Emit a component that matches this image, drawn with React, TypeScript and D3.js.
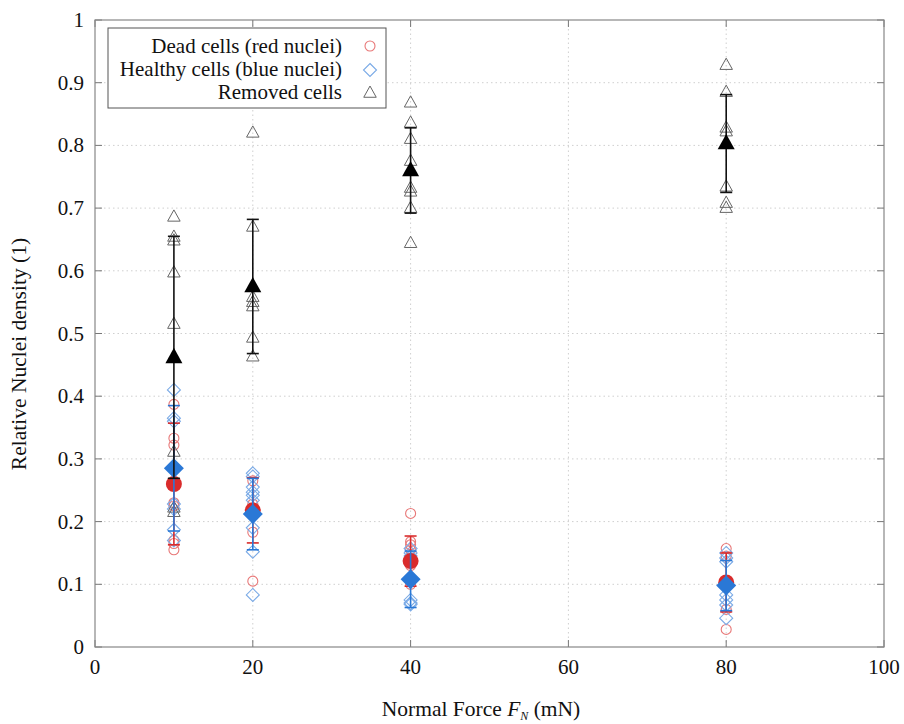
import React from "react";
import * as d3 from "d3";

const forces = [10, 20, 40, 80];
const xTicks = [0, 20, 40, 60, 80, 100];
const yTicks = [0, 0.1, 0.2, 0.3, 0.4, 0.5, 0.6, 0.7, 0.8, 0.9, 1];
const yTickLabels = ["0", "0.1", "0.2", "0.3", "0.4", "0.5", "0.6", "0.7", "0.8", "0.9", "1"];

const deadMean = [0.26, 0.218, 0.137, 0.103];
const deadErr = [0.097, 0.052, 0.04, 0.047];
const healthyMean = [0.285, 0.212, 0.108, 0.098];
const healthyErr = [0.1, 0.057, 0.045, 0.04];
const removedMean = [0.462, 0.575, 0.76, 0.803];
const removedErr = [0.193, 0.107, 0.068, 0.078];

const deadPoints = [
  [0.387, 0.333, 0.322, 0.23, 0.225, 0.17, 0.165, 0.155],
  [0.265, 0.228, 0.22, 0.183, 0.105],
  [0.213, 0.168, 0.163, 0.155, 0.13, 0.1],
  [0.157, 0.145, 0.1, 0.06, 0.028],
];
const healthyPoints = [
  [0.41, 0.365, 0.36, 0.228, 0.22, 0.187, 0.17],
  [0.277, 0.272, 0.255, 0.247, 0.242, 0.234, 0.19, 0.152, 0.083],
  [0.157, 0.15, 0.145, 0.11, 0.075, 0.07, 0.068],
  [0.15, 0.142, 0.136, 0.083, 0.075, 0.067, 0.046],
];
const removedPoints = [
  [0.686, 0.654, 0.648, 0.597, 0.515, 0.311, 0.222, 0.215],
  [0.82, 0.67, 0.558, 0.55, 0.543, 0.493, 0.463],
  [0.868, 0.836, 0.81, 0.775, 0.732, 0.726, 0.7, 0.644],
  [0.928, 0.885, 0.828, 0.822, 0.734, 0.708, 0.7],
];

const legendLabels = ["Dead cells (red nuclei)", "Healthy cells (blue nuclei)", "Removed cells"];

const RED = "#d92b2b";
const RED_LIGHT = "#e87878";
const BLUE = "#2a78d6";
const BLUE_LIGHT = "#7aaae6";
const GRAY = "#666";

const W = 904, H = 724;
const left = 95, right = 884, top = 20, bottom = 647;
const FONT = "Liberation Serif, Times New Roman, Times, DejaVu Serif, serif";

function triPath(cx: number, cy: number, s: number) {
  const h = s * 0.9;
  return `M${cx},${cy - h * 0.62} L${cx + s / 2},${cy + h * 0.38} L${cx - s / 2},${cy + h * 0.38} Z`;
}
function diaPath(cx: number, cy: number, r: number) {
  return `M${cx},${cy - r} L${cx + r},${cy} L${cx},${cy + r} L${cx - r},${cy} Z`;
}

export default function App() {
  const x = d3.scaleLinear().domain([0, 100]).range([left, right]);
  const y = d3.scaleLinear().domain([0, 1]).range([bottom, top]);

  const errBar = (i: number, mean: number[], err: number[], color: string, cap: number) => {
    const cx = x(forces[i]);
    const y1 = y(mean[i] + err[i]);
    const y2 = y(mean[i] - err[i]);
    return (
      <g key={"e" + color + i} stroke={color} strokeWidth={1.6}>
        <line x1={cx} x2={cx} y1={y1} y2={y2} />
        <line x1={cx - cap} x2={cx + cap} y1={y1} y2={y1} />
        <line x1={cx - cap} x2={cx + cap} y1={y2} y2={y2} />
      </g>
    );
  };

  const txt = { fontFamily: FONT };

  return (
    <svg width={W} height={H} style={{ position: "absolute", left: 0, top: 0, background: "#fff" }}>
      <rect x={0} y={0} width={W} height={H} fill="#fff" />
      {/* grid */}
      <g stroke="#cfcfcf" strokeWidth={1} strokeDasharray="1.5,3">
        {xTicks.slice(1, -1).map((t) => (
          <line key={"gx" + t} x1={x(t)} x2={x(t)} y1={top} y2={bottom} />
        ))}
        {yTicks.slice(1, -1).map((t) => (
          <line key={"gy" + t} x1={left} x2={right} y1={y(t)} y2={y(t)} />
        ))}
      </g>
      {/* tick marks */}
      <g stroke="#777" strokeWidth={1}>
        {xTicks.map((t) => (
          <g key={"tx" + t}>
            <line x1={x(t)} x2={x(t)} y1={bottom} y2={bottom - 7} />
            <line x1={x(t)} x2={x(t)} y1={top} y2={top + 7} />
          </g>
        ))}
        {yTicks.map((t) => (
          <g key={"ty" + t}>
            <line x1={left} x2={left + 7} y1={y(t)} y2={y(t)} />
            <line x1={right} x2={right - 7} y1={y(t)} y2={y(t)} />
          </g>
        ))}
      </g>
      {/* frame */}
      <rect x={left} y={top} width={right - left} height={bottom - top} fill="none" stroke="#888" strokeWidth={1.2} />
      {/* tick labels */}
      <g style={txt} fontSize={21} fill="#111">
        {xTicks.map((t) => (
          <text key={"lx" + t} x={x(t)} y={bottom + 27} textAnchor="middle">{t}</text>
        ))}
        {yTicks.map((t, i) => (
          <text key={"ly" + t} x={left - 11} y={y(t) + 7} textAnchor="end">{yTickLabels[i]}</text>
        ))}
      </g>
      {/* axis titles */}
      <text x={481} y={716} textAnchor="middle" style={txt} fontSize={21.5} fill="#111">
        Normal Force <tspan fontStyle="italic">F</tspan>
        <tspan fontStyle="italic" fontSize={12} dy={4}>N</tspan>
        <tspan dy={-4}> (mN)</tspan>
      </text>
      <text
        transform={`translate(26,354) rotate(-90)`}
        textAnchor="middle"
        style={txt}
        fontSize={21.5}
        fill="#111"
      >
        Relative Nuclei density (1)
      </text>

      {/* dead cells scatter */}
      <g fill="none" stroke={RED_LIGHT} strokeWidth={1.1}>
        {deadPoints.map((arr, i) =>
          arr.map((v, j) => <circle key={"dp" + i + "-" + j} cx={x(forces[i])} cy={y(v)} r={5} />)
        )}
      </g>
      {/* healthy scatter */}
      <g fill="none" stroke={BLUE_LIGHT} strokeWidth={1.1}>
        {healthyPoints.map((arr, i) =>
          arr.map((v, j) => <path key={"hp" + i + "-" + j} d={diaPath(x(forces[i]), y(v), 6.5)} />)
        )}
      </g>
      {/* removed scatter */}
      <g fill="none" stroke={GRAY} strokeWidth={1}>
        {removedPoints.map((arr, i) =>
          arr.map((v, j) => <path key={"rp" + i + "-" + j} d={triPath(x(forces[i]), y(v), 12.5)} />)
        )}
      </g>

      {/* dead mean + error */}
      {forces.map((_, i) => errBar(i, deadMean, deadErr, RED, 6))}
      {forces.map((_, i) => (
        <circle key={"dm" + i} cx={x(forces[i])} cy={y(deadMean[i])} r={8} fill={RED} />
      ))}
      {/* healthy mean + error */}
      {forces.map((_, i) => errBar(i, healthyMean, healthyErr, BLUE, 6))}
      {forces.map((_, i) => (
        <path key={"hm" + i} d={diaPath(x(forces[i]), y(healthyMean[i]), 10)} fill={BLUE} />
      ))}
      {/* removed mean + error */}
      {forces.map((_, i) => errBar(i, removedMean, removedErr, "#111", 6))}
      {forces.map((_, i) => (
        <path key={"rm" + i} d={triPath(x(forces[i]), y(removedMean[i]), 17)} fill="#000" />
      ))}

      {/* legend */}
      <rect x={108} y={28} width={278} height={80} fill="#fff" stroke="#555" strokeWidth={1} />
      <g style={txt} fontSize={21} fill="#111">
        {legendLabels.map((l, i) => (
          <text key={"lg" + i} x={342} y={53 + i * 23} textAnchor="end">{l}</text>
        ))}
      </g>
      <circle cx={370} cy={46} r={5} fill="none" stroke={RED_LIGHT} strokeWidth={1.1} />
      <path d={diaPath(370, 70, 6.5)} fill="none" stroke={BLUE_LIGHT} strokeWidth={1.1} />
      <path d={triPath(370, 93, 12.5)} fill="none" stroke={GRAY} strokeWidth={1} />
    </svg>
  );
}
